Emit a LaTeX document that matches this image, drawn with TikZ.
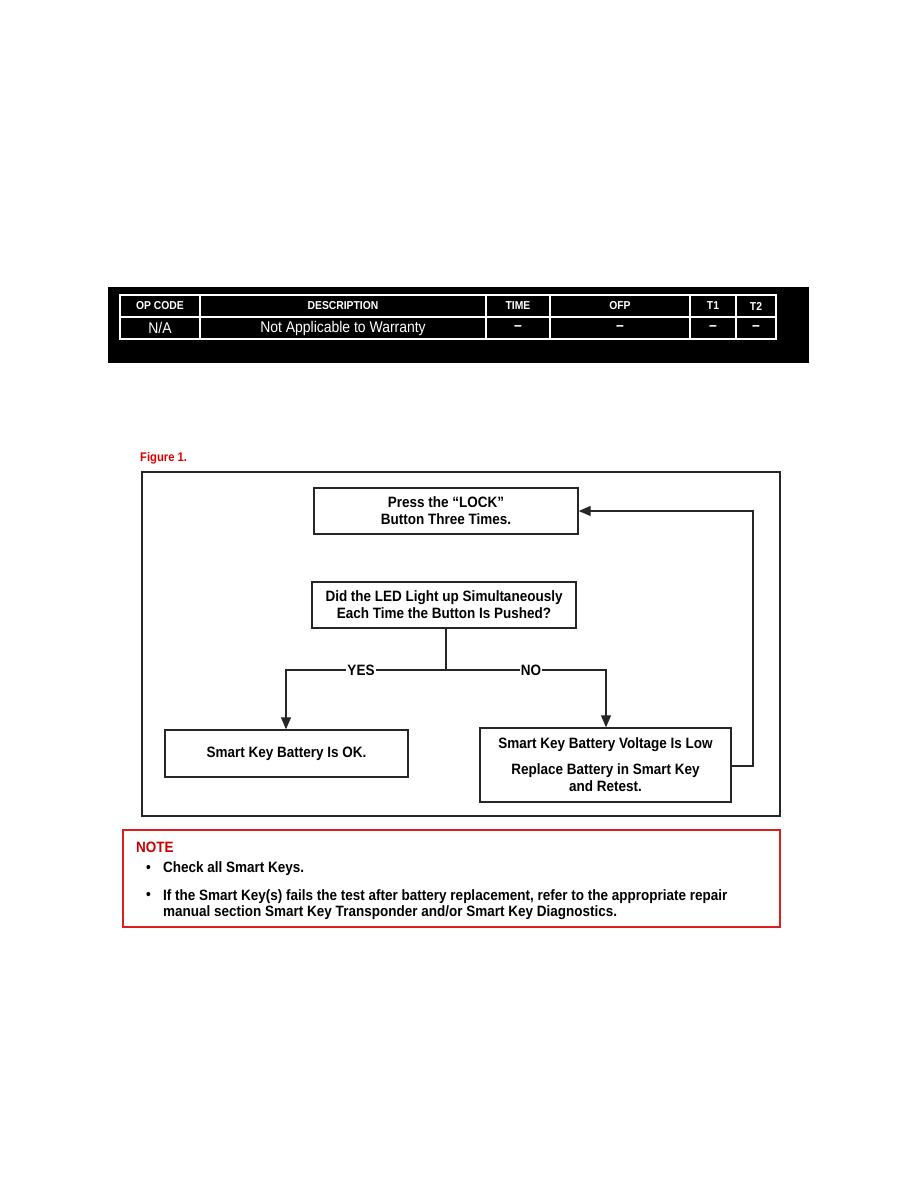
\documentclass[tikz,border=0pt]{standalone}
\usepackage{fontspec}
\setmainfont{Liberation Sans}
\newfontfamily\cond[FakeStretch=0.9,Ligatures=TeX]{Liberation Sans}
\usetikzlibrary{arrows.meta}
\tikzset{
  x=1pt,y=-1pt,
  flowbox/.style={draw=black!85,line width=1.4pt,align=center,font=\cond\bfseries\fontsize{15}{17}\selectfont,inner sep=0pt},
  conn/.style={draw=black!85,line width=1.2pt},
  arr/.style={conn,-{Triangle[length=12pt,width=10pt]}},
  lbl/.style={font=\cond\bfseries\fontsize{15}{17}\selectfont,inner sep=1pt,fill=white},
  thead/.style={text=white,font=\cond\bfseries\fontsize{11.5}{13}\selectfont},
  tcell/.style={text=white,font=\cond\fontsize{15.5}{17}\selectfont},
  grid/.style={draw=white,line width=1.3pt},
  notetxt/.style={font=\cond\bfseries\fontsize{15}{17}\selectfont,inner sep=0pt},
}
\begin{document}
\begin{tikzpicture}
\useasboundingbox[fill=white] (0,0) rectangle (918,1188);
% table
\fill[black] (108,287) rectangle (809,363);
\draw[grid] (120,295) rectangle (776,339);
\draw[grid] (120,317) -- (776,317);
\foreach \c in {200,486,550,690,736} \draw[grid] (\c,295) -- (\c,339);
\node[thead] (h1) at (160,306) {OP CODE};
\node[thead] (h2) at (343,306) {DESCRIPTION};
\node[thead] (h3) at (518,306) {TIME};
\node[thead] (h4) at (620,306) {OFP};
\node[thead] (h5) at (713,306) {T1};
\node[thead] (h6) at (756,306) {T2};
\node[tcell] (r1) at (160,328) {N/A};
\node[tcell] (r2) at (343,328) {Not Applicable to Warranty};
\node[tcell] (r3) at (518,328) {\bfseries –};
\node[tcell] (r4) at (620,328) {\bfseries –};
\node[tcell] (r5) at (713,328) {\bfseries –};
\node[tcell] (r6) at (756,328) {\bfseries –};
% figure
\node[anchor=west,text={rgb,255:red,220;green,0;blue,0},font=\cond\bfseries\fontsize{12.5}{14}\selectfont,inner sep=0pt] (fig) at (140,458) {Figure 1.};
\node[draw=black!85,line width=1.8pt,minimum width=638pt,minimum height=344pt,inner sep=0pt] (frame) at (461,644) {};
\node[flowbox,minimum width=264pt,minimum height=46pt] (b1) at (446,511) {Press the “LOCK”\\Button Three Times.};
\node[flowbox,minimum width=264pt,minimum height=46pt] (b2) at (444,605) {Did the LED Light up Simultaneously\\Each Time the Button Is Pushed?};
\node[flowbox,minimum width=243pt,minimum height=47pt] (b3) at (286.5,753.5) {Smart Key Battery Is OK.};
\node[flowbox,minimum width=251pt,minimum height=74pt] (b4) at (605.5,765) {Smart Key Battery Voltage Is Low\\[9pt]Replace Battery in Smart Key\\and Retest.};
\coordinate (j) at (446,670);
\node[lbl] (yes) at (361,670) {YES};
\node[lbl] (no) at (531,670) {NO};
\draw[conn] (b2.south -| j) -- (j);
\draw[conn] (j) -- (yes.east |- j);
\draw[conn] (j) -- (no.west |- j);
\draw[arr] (yes.west |- j) -| (b3.north -| 286,0);
\draw[arr] (no.east |- j) -| (b4.north -| 606,0);
\draw[arr] (b4.east |- 0,766) -- (753,766) |- (b1.east);
% note
\node[draw={rgb,255:red,220;green,30;blue,30},line width=1.4pt,minimum width=657pt,minimum height=97pt,inner sep=0pt] (note) at (451.5,878.5) {};
\node[anchor=west,text={rgb,255:red,200;green,0;blue,0},notetxt] (nt) at (136,847) {NOTE};
\node[anchor=west,notetxt] (bu1) at (146,869) {•};
\node[anchor=west,notetxt] (t1) at (163,869) {Check all Smart Keys.};
\node[anchor=west,notetxt] (bu2) at (146,896) {•};
\node[anchor=north west,align=left,notetxt,font=\cond\bfseries\fontsize{15}{16}\selectfont] (t2) at (163,889) {If the Smart Key(s) fails the test after battery replacement, refer to the appropriate repair\\manual section Smart Key Transponder and/or Smart Key Diagnostics.};
\end{tikzpicture}
\end{document}
